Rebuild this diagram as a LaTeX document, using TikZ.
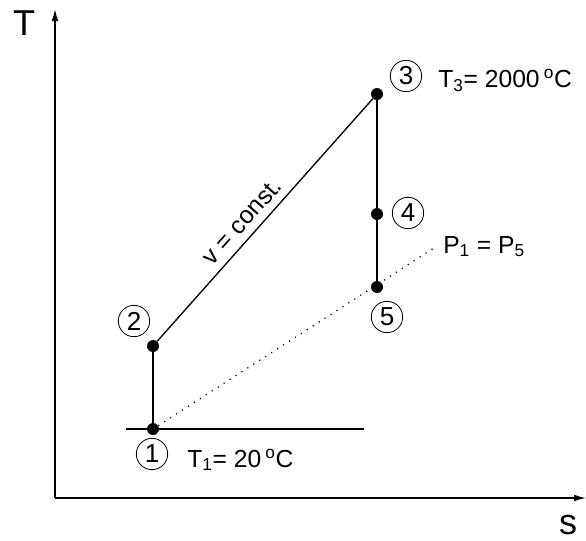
\documentclass[tikz,border=0pt]{standalone}
\usepackage{fontspec}
\setmainfont{Liberation Sans}
\usetikzlibrary{arrows.meta, positioning}

\begin{document}
\begin{tikzpicture}[x=0.75pt, y=-0.75pt,
    state/.style={circle, fill=black, inner sep=0pt, minimum size=9pt},
    num/.style={circle, draw, line width=0.6pt, inner sep=0pt, minimum size=23.5pt, font=\fontsize{19.5}{19.5}\selectfont},
    lbl/.style={inner sep=0pt, font=\fontsize{18.5}{20}\selectfont},
    axlbl/.style={inner sep=0pt, font=\fontsize{27}{27}\selectfont},
    axis/.style={line width=1pt, -{Latex[length=9pt,width=5pt]}},
    line/.style={line width=1pt}]

    \useasboundingbox (0,0) rectangle (586,540);

    % Axes
    \coordinate (origin) at (55,498);
    \coordinate (ttop) at (55,9);
    \coordinate (send) at (586,498);
    \draw [axis] (origin) -- (ttop);
    \draw [axis] (origin) -- (send);
    \node [axlbl] (tlab) at (24,23) {T};
    \node [axlbl] (slab) at (568,525) {s};

    % States
    \node [state] (p1) at (153,429) {};
    \node [state] (p2) at (153,346) {};
    \node [state] (p3) at (377,94) {};
    \node [state] (p4) at (377,214) {};
    \node [state] (p5) at (377,287) {};

    \node [num] (n1) at (152,454) {1};
    \node [num] (n2) at (134,321) {2};
    \node [num] (n3) at (406,76) {3};
    \node [num] (n4) at (408,213) {4};
    \node [num] (n5) at (387,317) {5};

    % Processes
    \draw [line] (p1) -- (p2);
    \draw [line] (p2) -- node [lbl, sloped, above=5.5pt, pos=0.45] (vlab) {v = const.} (p3);
    \draw [line] (p3) -- (p4) -- (p5);

    % Isotherm and isobar
    \coordinate (ta) at (126,429);
    \coordinate (tb) at (364,429);
    \draw [line] (ta) -- (tb);
    \coordinate (pend) at (437,246);
    \draw [line width=0.9pt, dash pattern=on 0.9pt off 4.4pt] (p1) -- (pend);

    % Labels
    \node [lbl, anchor=base west] (t1) at (187,467) {T\textsubscript{1}= 20\,\textsuperscript{o}C};
    \node [lbl, anchor=base west] (t3) at (438,87) {T\textsubscript{3}= 2000\,\textsuperscript{o}C};
    \node [lbl, anchor=base west] (peq) at (443,253) {P\textsubscript{1} = P\textsubscript{5}};

\end{tikzpicture}
\end{document}
